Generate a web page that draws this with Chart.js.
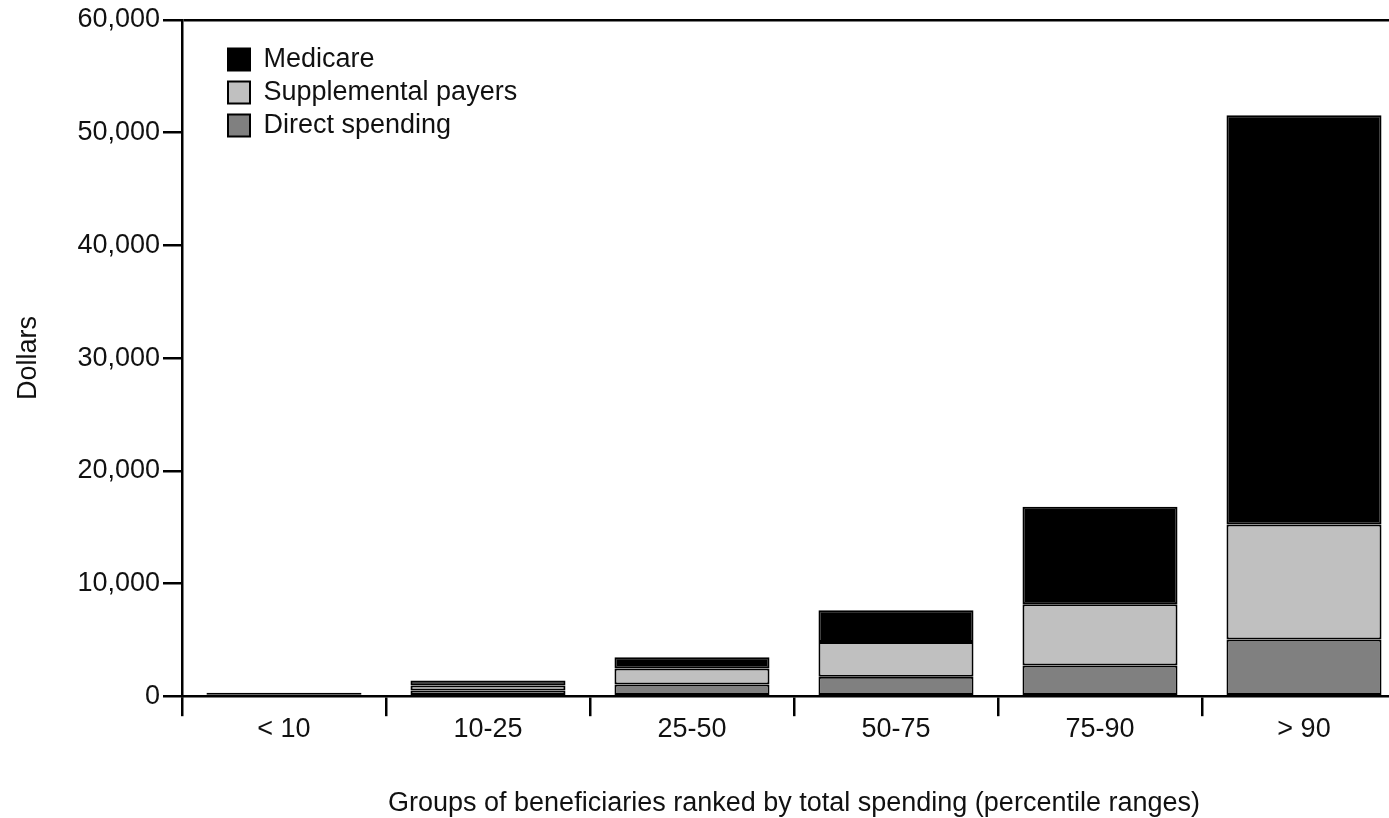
<!DOCTYPE html>
<html>
<head>
<meta charset="utf-8">
<script src="https://cdn.jsdelivr.net/npm/chart.js@4/dist/chart.umd.min.js"></script>
<style>
  html, body { margin: 0; padding: 0; background: #fff; overflow: hidden; }
  #wrap { width: 1420px; height: 822px; }
</style>
</head>
<body>
<div id="wrap"><canvas id="chart"></canvas></div>
<script>
// Percentile groups and the three spending components (dollars)
const groups = ['< 10', '10-25', '25-50', '50-75', '75-90', '> 90'];
const directSpending = [100, 500, 1040, 1720, 2730, 5020];
const supplementalPayers = [80, 450, 1420, 3080, 5420, 10220];
const medicare = [130, 450, 1000, 2820, 8650, 36300];
const yTicks = [0, 10000, 20000, 30000, 40000, 50000, 60000];

const FONT = '"Liberation Sans", Arial, sans-serif';
const SIZE = 27;
const INK = '#111';

// Move the legend into the top-left corner of the plot
const legendPlacer = {
    id: 'legendPlacer',
    afterLayout(chart) {
        const lg = chart.legend;
        const ca = chart.chartArea;
        if (!lg) return;
        lg.left = ca.left + 40;
        lg.top = ca.top + 20;
        lg.right = lg.left + lg.width;
        lg.bottom = lg.top + lg.height;
    }
};

function series(label, data, color) {
    return {
        label: label,
        data: data,
        backgroundColor: color,
        borderColor: '#000',
        borderWidth: 2,
        borderSkipped: false,
        barPercentage: 0.76,
        categoryPercentage: 1
    };
}

new Chart(document.getElementById('chart'), {
    type: 'bar',
    data: {
        labels: groups,
        datasets: [
            series('Direct spending', directSpending, '#808080'),
            series('Supplemental payers', supplementalPayers, '#c0c0c0'),
            series('Medicare', medicare, '#000000')
        ]
    },
    options: {
        responsive: true,
        maintainAspectRatio: false,
        animation: false,
        layout: { padding: { top: 20, right: 14, bottom: 2, left: 0 } },
        plugins: {
            tooltip: { enabled: false },
            legend: {
                position: 'chartArea',
                align: 'start',
                reverse: true,
                labels: {
                    boxWidth: 22,
                    boxHeight: 22,
                    padding: 6,
                    color: INK,
                    font: { family: FONT, size: SIZE }
                }
            }
        },
        scales: {
            x: {
                stacked: true,
                border: { display: true, color: '#000', width: 2.5 },
                grid: {
                    drawOnChartArea: false,
                    drawTicks: true,
                    tickLength: 20,
                    tickColor: '#000',
                    lineWidth: 2.5
                },
                ticks: {
                    color: INK,
                    padding: -3,
                    font: { family: FONT, size: SIZE }
                },
                title: {
                    display: true,
                    text: 'Groups of beneficiaries ranked by total spending (percentile ranges)',
                    color: INK,
                    font: { family: FONT, size: SIZE },
                    padding: { top: 45, bottom: 0 }
                }
            },
            y: {
                stacked: true,
                min: 0,
                max: 60000,
                afterBuildTicks: (axis) => {
                    axis.ticks = yTicks.map(v => ({ value: v }));
                },
                border: { display: true, color: '#000', width: 2.5 },
                grid: {
                    drawOnChartArea: true,
                    drawTicks: true,
                    tickLength: 19,
                    tickColor: '#000',
                    lineWidth: 2.5,
                    color: (ctx) => (ctx.tick && ctx.tick.value === 60000) ? '#000' : 'rgba(0,0,0,0)'
                },
                ticks: {
                    color: INK,
                    padding: 3,
                    font: { family: FONT, size: SIZE },
                    callback: (v) => Number(v).toLocaleString('en-US')
                },
                title: {
                    display: true,
                    text: 'Dollars',
                    color: INK,
                    font: { family: FONT, size: SIZE },
                    padding: { top: 12, bottom: 30 }
                }
            }
        }
    },
    plugins: [legendPlacer]
});
</script>
</body>
</html>
